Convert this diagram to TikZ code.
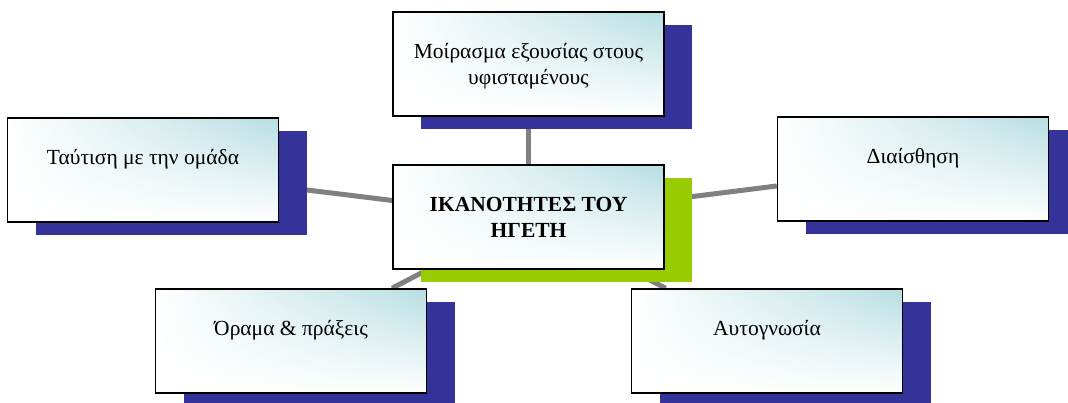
\documentclass[tikz,border=0pt]{standalone}
\usepackage{fontspec}
\setmainfont{Liberation Serif}
\usetikzlibrary{shadings, shadows, backgrounds}

\definecolor{shadowblue}{RGB}{51,51,153}
\definecolor{shadowgreen}{RGB}{153,204,0}
\definecolor{paleteal}{RGB}{183,222,226}
\definecolor{linkgray}{RGB}{128,128,128}

\newcommand{\cardtext}[1]{\parbox[c][104pt][t]{262pt}{\centering\vspace*{28pt}\strut#1}}

\tikzset{
  card/.style={draw, line width=1.5pt, minimum width=271pt, minimum height=104pt, inner sep=0pt,
    shade, shading=bilinear interpolation, upper right=paleteal, upper left=white, lower left=white, lower right=white,
    font=\fontsize{21.5}{26}\selectfont},
  skill/.style={card, general shadow={fill=shadowblue, shadow xshift=28pt, shadow yshift=-13pt}},
  hub/.style={card, general shadow={fill=shadowgreen, shadow xshift=28pt, shadow yshift=-13pt}},
  link/.style={draw=linkgray, line width=5pt}
}

\begin{document}
\begin{tikzpicture}[x=1pt, y=-1pt]
  \useasboundingbox (0,0) rectangle (1068,402);
  \node (hub) [hub] at (528.5,217) {\cardtext{\bfseries ΙΚΑΝΟΤΗΤΕΣ ΤΟΥ\\ΗΓΕΤΗ}};
  \node (share) [skill] at (528.5,64) {\cardtext{Μοίρασμα εξουσίας στους\\υφισταμένους}};
  \node (identity) [skill] at (143,170) {\cardtext{Ταύτιση με την ομάδα}};
  \node (intuition) [skill] at (913,169) {\cardtext{Διαίσθηση}};
  \node (vision) [skill] at (291,341) {\cardtext{Όραμα \& πράξεις}};
  \node (selfaware) [skill] at (767,341) {\cardtext{Αυτογνωσία}};
  \begin{pgfonlayer}{background}
    \draw [link] (hub) -- (share);
    \draw [link] (hub) -- (identity);
    \draw [link] (hub) -- (intuition);
    \draw [link] (hub) -- (vision);
    \draw [link] (hub) -- (selfaware);
  \end{pgfonlayer}
\end{tikzpicture}
\end{document}
